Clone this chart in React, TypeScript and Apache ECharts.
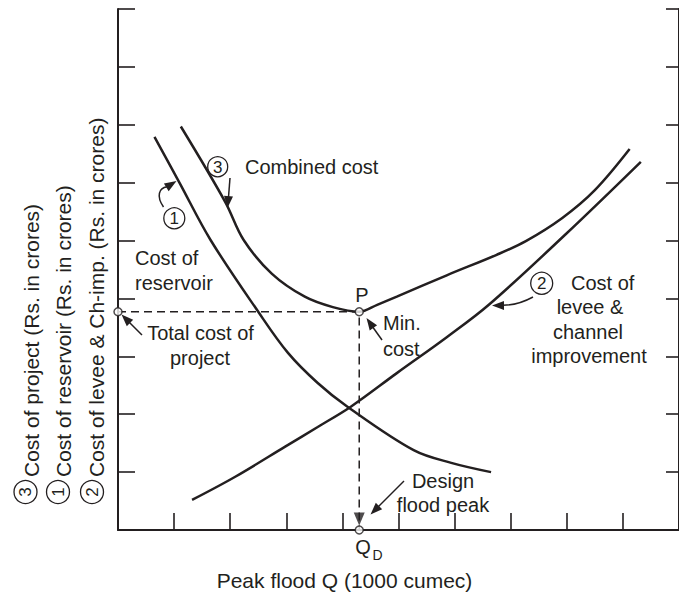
import React, { useEffect, useRef } from "react";
import * as echarts from "echarts";

// Peak flood Q (x, in tick units) and costs (y, in tick units)
const reservoirQ = [0.65, 1.09, 1.65, 2.5, 3.03, 3.56, 4.09, 5.27, 5.94, 6.65];
const reservoirCost = [6.79, 6.01, 5.01, 3.77, 3.06, 2.54, 2.13, 1.38, 1.16, 1.0];

const leveeQ = [1.32, 2.09, 2.98, 3.56, 4.15, 4.97, 5.86, 6.61, 7.97, 9.32];
const leveeCost = [0.52, 0.92, 1.44, 1.78, 2.13, 2.71, 3.33, 3.89, 5.1, 6.36];

const combinedQ = [1.12, 1.91, 2.24, 2.74, 3.33, 3.83, 4.3, 4.62, 4.97, 5.86, 6.74, 7.27, 7.92, 8.5, 9.12];
const combinedCost = [6.97, 5.67, 5.01, 4.43, 4.03, 3.85, 3.77, 3.89, 4.03, 4.4, 4.75, 4.99, 5.39, 5.87, 6.58];

const designQ = 4.3;
const minCost = 3.77;

const xMax = 10;
const yMax = 9;

const INK = "#231f20";
const FONT = '"Liberation Sans", Arial, Helvetica, sans-serif';

const zip = (xs: number[], ys: number[]) => xs.map((x, i) => [x, ys[i]]);

function txt(x: number, y: number, text: string, size: number, align = "left", rot = 0) {
  return {
    type: "text",
    x,
    y,
    rotation: rot,
    silent: true,
    style: {
      text,
      fontSize: size,
      fontFamily: FONT,
      fill: INK,
      align,
      verticalAlign: "middle",
      textAlign: align,
      textVerticalAlign: "middle",
    },
  };
}

function head(tx: number, ty: number, fx: number, fy: number, L = 12, W = 9) {
  const dx = tx - fx;
  const dy = ty - fy;
  const len = Math.hypot(dx, dy);
  const ux = dx / len;
  const uy = dy / len;
  const bx = tx - ux * L;
  const by = ty - uy * L;
  const nx = -uy;
  const ny = ux;
  return {
    type: "polygon",
    silent: true,
    shape: {
      points: [
        [tx, ty],
        [bx + (nx * W) / 2, by + (ny * W) / 2],
        [bx - (nx * W) / 2, by - (ny * W) / 2],
      ],
    },
    style: { fill: INK },
  };
}

function seg(x1: number, y1: number, x2: number, y2: number, w = 1.5) {
  return { type: "line", silent: true, shape: { x1, y1, x2, y2 }, style: { stroke: INK, lineWidth: w } };
}

function bez(x1: number, y1: number, cpx1: number, cpy1: number, cpx2: number, cpy2: number, x2: number, y2: number) {
  return {
    type: "bezierCurve",
    silent: true,
    shape: { x1, y1, cpx1, cpy1, cpx2, cpy2, x2, y2 },
    style: { stroke: INK, lineWidth: 1.5, fill: null },
  };
}

function ring(cx: number, cy: number, r: number) {
  return {
    type: "circle",
    silent: true,
    shape: { cx, cy, r },
    style: { stroke: INK, lineWidth: 1.3, fill: "#fff" },
  };
}

export default function App() {
  const ref = useRef<HTMLDivElement>(null);

  useEffect(() => {
    if (!ref.current) return;
    const chart = echarts.init(ref.current, null, { renderer: "svg" });

    const curve = (name: string, data: number[][]) => ({
      name,
      type: "line",
      data,
      smooth: 0.35,
      showSymbol: false,
      symbol: "none",
      lineStyle: { color: INK, width: 2.5 },
      z: 3,
    });

    const R = Math.PI / 2;
    const graphic: any[] = [
      // y axis titles (rotated)
      ring(25.5, 492, 11.5),
      txt(25.5, 492, "3", 17, "center", R),
      txt(31, 477, "Cost of project (Rs. in crores)", 21, "left", R),
      ring(58, 492, 11.5),
      txt(58, 492, "1", 17, "center", R),
      txt(63.5, 477, "Cost of reservoir (Rs. in crores)", 21, "left", R),
      ring(92, 492, 11.5),
      txt(92, 492, "2", 17, "center", R),
      txt(96.5, 477, "Cost of levee & Ch-imp. (Rs. in crores)", 21, "left", R),

      // x axis title and Q_D
      txt(344.5, 580, "Peak flood Q (1000 cumec)", 21, "center"),
      txt(363, 547, "Q", 20, "center"),
      txt(372.5, 555, "D", 14, "left"),

      // combined cost
      ring(217.7, 166.7, 10),
      txt(217.7, 167, "3", 17, "center"),
      txt(245, 167, "Combined cost", 20, "left"),
      seg(230, 178, 228.5, 197),
      head(227.5, 208, 229, 190),

      // reservoir
      ring(174.3, 218.3, 10.5),
      txt(174.3, 218.6, "1", 17, "center"),
      bez(163.5, 207, 156, 196, 159, 188, 167, 186.8),
      head(176.5, 181, 166, 187.5),
      txt(135, 258, "Cost of", 20, "left"),
      txt(135, 283, "reservoir", 20, "left"),

      // levee
      ring(541.7, 283.3, 11),
      txt(541.7, 283.6, "2", 17, "center"),
      bez(533, 297, 522, 303, 512, 305.3, 503, 305.3),
      head(492, 305.5, 503, 305.4),
      txt(571, 283.3, "Cost of", 20, "left"),
      txt(590, 307, "levee &", 20, "center"),
      txt(588, 332, "channel", 20, "center"),
      txt(589, 356, "improvement", 20, "center"),

      // P and min cost
      txt(362, 295, "P", 20, "center"),
      txt(383, 323, "Min.", 20, "left"),
      txt(383, 349, "cost", 20, "left"),
      seg(382, 340, 372, 326),
      head(366.5, 318, 382, 340),

      // total cost
      txt(200.5, 333, "Total cost of", 20, "center"),
      txt(200, 358, "project", 20, "center"),
      seg(142, 335, 128, 321),
      head(121.5, 314.5, 142, 335),

      // design flood peak
      txt(443, 481, "Design", 20, "center"),
      txt(443, 505, "flood peak", 20, "center"),
      seg(404, 481, 378, 507),
      head(370.5, 514.5, 404, 481),
    ];

    chart.setOption({
      animation: false,
      backgroundColor: "#fff",
      grid: { left: 118, top: 9, width: 567, height: 521 },
      xAxis: {
        type: "value",
        min: 0,
        max: xMax,
        interval: 1,
        axisLine: { show: true, lineStyle: { color: INK, width: 2 } },
        axisTick: { show: true, inside: true, length: 17, lineStyle: { color: INK, width: 1.6 } },
        axisLabel: { show: false },
        splitLine: { show: false },
      },
      yAxis: [
        {
          type: "value",
          min: 0,
          max: yMax,
          interval: 1,
          position: "left",
          axisLine: { show: true, lineStyle: { color: INK, width: 2 } },
          axisTick: { show: true, inside: true, length: 17, lineStyle: { color: INK, width: 1.6 } },
          axisLabel: { show: false },
          splitLine: { show: false },
        },
        {
          type: "value",
          min: 0,
          max: yMax,
          interval: 1,
          position: "right",
          axisLine: { show: true, lineStyle: { color: INK, width: 2 } },
          axisTick: { show: true, inside: true, length: 13, lineStyle: { color: INK, width: 1.6 } },
          axisLabel: { show: false },
          splitLine: { show: false },
        },
      ],
      series: [
        curve("Cost of reservoir", zip(reservoirQ, reservoirCost)),
        curve("Cost of levee & channel improvement", zip(leveeQ, leveeCost)),
        curve("Combined cost", zip(combinedQ, combinedCost)),
        {
          name: "guide",
          type: "line",
          data: [
            [0, minCost],
            [designQ, minCost],
            [designQ, 0],
          ],
          showSymbol: false,
          symbol: "none",
          lineStyle: { color: INK, width: 1.5, type: [8, 5] },
          z: 2,
        },
        {
          name: "design arrow",
          type: "scatter",
          data: [[designQ, 0.19]],
          symbol: "triangle",
          symbolRotate: 180,
          symbolSize: [11, 13],
          itemStyle: { color: INK },
          z: 4,
        },
        {
          name: "points",
          type: "scatter",
          data: [
            [0, minCost],
            [designQ, minCost],
            [designQ, 0],
          ],
          symbol: "circle",
          symbolSize: 8,
          itemStyle: { color: "#fff", borderColor: INK, borderWidth: 1.5 },
          z: 5,
        },
      ],
      graphic,
    });

    return () => chart.dispose();
  }, []);

  return (
    <div
      ref={ref}
      style={{ position: "absolute", left: 0, top: 0, width: 679, height: 594, background: "#fff" }}
    />
  );
}
